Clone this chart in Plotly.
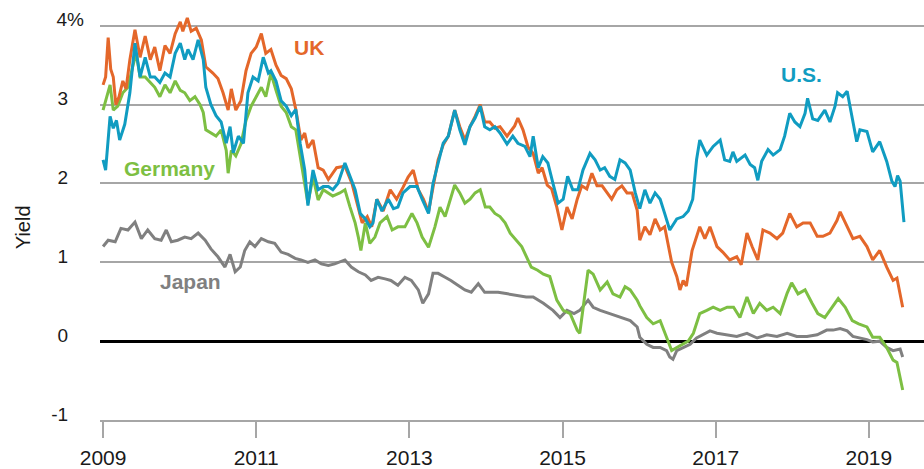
import plotly.graph_objects as go

# months since Jan 2009 and 10-year yields (%)
uk_m = [0.0, 0.4, 0.8, 1.2, 1.6, 2.0, 2.5, 3.1, 3.6, 4.2, 5.0, 5.8, 6.6, 7.4, 8.1, 8.9, 9.7, 10.5, 11.3,
        12.1, 12.5, 13.2, 13.8, 14.6, 15.4, 16.1, 17.2, 18.0, 18.8, 19.6, 20.1, 20.8, 21.6, 22.4, 23.2,
        24.0, 24.8, 25.5, 26.3, 27.1, 27.9, 28.7, 29.5, 30.2, 31.0, 31.6, 32.1, 32.9, 33.7, 34.5, 35.3,
        36.6, 37.9, 39.0, 39.8, 40.6, 41.4, 42.1, 42.9, 43.9, 45.0, 46.0, 47.0, 47.8, 48.6, 49.4, 50.2,
        51.0, 51.7, 52.5, 53.3, 54.1, 55.1, 55.9, 56.7, 57.5, 58.3, 59.1, 59.8, 60.6, 61.4, 62.2, 63.3,
        63.8, 64.5, 65.0, 65.8, 66.6, 67.4, 68.2, 68.8, 69.6, 70.3, 71.1, 71.9, 72.7, 73.5, 74.3, 75.0,
        75.8, 76.6, 77.4, 78.2, 79.0, 79.7, 80.5, 81.3, 82.1, 82.9, 83.7, 84.1, 84.9, 85.7, 86.5, 87.3,
        88.0, 88.5, 89.1, 89.9, 90.4, 90.9, 91.4, 92.3, 93.5, 94.3, 95.1, 96.2, 97.1, 98.2, 99.3, 100.0,
        100.9, 101.7, 102.6, 103.4, 104.5, 105.6, 106.5, 107.6, 108.7, 109.7, 110.8, 111.9, 112.8, 113.9,
        115.0, 115.5, 116.6, 117.5, 118.6, 119.7, 120.6, 121.7, 122.8, 123.8, 124.4, 125.3]
uk_y = [3.25, 3.35, 3.85, 3.45, 3.35, 3.0, 3.1, 3.3, 3.2, 3.57, 3.95, 3.6, 3.87, 3.57, 3.73, 3.43, 3.75, 3.65, 3.9,
        4.05, 3.93, 4.1, 3.93, 3.97, 3.82, 3.48, 3.4, 3.33, 3.15, 2.93, 3.2, 2.93, 3.05, 3.43, 3.65,
        3.73, 3.9, 3.65, 3.7, 3.5, 3.37, 3.33, 3.2, 2.94, 2.55, 2.64, 2.45, 2.55, 2.2, 2.17, 2.05,
        2.2, 2.22, 2.0, 1.75, 1.5, 1.58, 1.45, 1.8, 1.65, 1.92, 1.8, 1.95, 2.08, 2.17, 1.92, 1.8,
        1.64, 1.95, 2.3, 2.49, 2.6, 2.93, 2.72, 2.55, 2.72, 2.85, 3.0, 2.78, 2.78, 2.7, 2.72, 2.6,
        2.66, 2.73, 2.83, 2.68, 2.46, 2.38, 2.13, 2.2, 1.98, 1.93, 1.7, 1.41, 1.7, 1.55, 1.8, 1.97,
        1.93, 2.13, 1.97, 1.97, 1.88, 1.8, 1.92, 1.97, 1.88, 1.88, 1.66, 1.28, 1.45, 1.35, 1.55, 1.41,
        1.45, 1.24, 1.0, 0.82, 0.65, 0.77, 0.7, 1.15, 1.45, 1.3, 1.45, 1.2, 1.13, 1.03, 1.07, 0.97,
        1.37, 1.2, 1.03, 1.41, 1.37, 1.3, 1.37, 1.62, 1.45, 1.5, 1.5, 1.33, 1.33, 1.37,
        1.53, 1.64, 1.45, 1.3, 1.33, 1.2, 1.03, 1.15, 0.94, 0.77, 0.8, 0.43]

us_m = [0.0, 0.4, 1.1, 1.6, 2.1, 2.6, 3.4, 4.2, 5.0, 5.8, 6.6, 7.4, 8.1, 8.9, 9.7, 10.5, 11.3, 12.1, 12.8,
        13.3, 14.1, 14.9, 15.7, 16.1, 16.9, 17.7, 18.5, 19.3, 19.9, 20.4, 21.2, 22.0, 22.7, 23.5, 24.3,
        25.1, 25.9, 26.3, 27.1, 27.9, 28.7, 29.5, 30.2, 30.9, 31.6, 32.1, 32.9, 33.7, 34.5, 35.3, 36.0,
        36.8, 37.9, 38.7, 39.5, 40.3, 41.1, 41.8, 42.3, 42.9, 43.7, 44.7, 45.5, 46.2, 47.0, 48.1, 49.2,
        50.0, 51.0, 51.7, 52.5, 53.3, 54.1, 55.1, 55.9, 56.7, 57.5, 58.3, 59.1, 59.8, 60.6, 61.4, 62.2,
        63.3, 64.2, 65.0, 66.1, 66.9, 67.4, 68.2, 68.9, 69.7, 70.5, 71.3, 72.1, 72.8, 73.6, 74.4, 75.2,
        76.3, 77.1, 77.9, 78.6, 79.4, 80.2, 81.0, 81.8, 82.6, 83.4, 84.1, 84.9, 85.7, 86.5, 87.3, 88.0,
        88.8, 89.9, 90.9, 91.7, 92.4, 93.0, 93.5, 94.6, 95.6, 96.7, 97.4, 98.2, 98.7, 99.3, 100.6, 101.4,
        102.1, 102.6, 103.2, 104.2, 105.0, 106.1, 106.8, 107.6, 108.4, 109.2, 110.0, 110.4, 111.2, 112.0,
        113.1, 113.9, 114.7, 115.1, 115.9, 116.6, 117.3, 118.1, 118.6, 119.7, 120.6, 121.7, 122.8, 123.6,
        124.1, 124.5, 124.9, 125.5]
us_y = [2.3, 2.17, 2.85, 2.7, 2.8, 2.55, 2.75, 3.15, 3.78, 3.35, 3.6, 3.35, 3.35, 3.28, 3.4, 3.35, 3.65, 3.78, 3.57,
        3.7, 3.57, 3.82, 3.57, 3.22, 3.0, 2.86, 2.78, 2.51, 2.72, 2.39, 2.6, 2.51, 3.15, 3.35, 3.3,
        3.6, 3.4, 3.43, 3.3, 3.05, 2.98, 2.86, 2.94, 2.5, 2.17, 1.72, 2.17, 1.92, 1.96, 1.96, 1.92,
        2.0, 2.26, 2.09, 1.92, 1.62, 1.55, 1.45, 1.5, 1.8, 1.65, 1.8, 1.68, 1.7, 1.88, 1.96, 1.96,
        1.8, 1.62, 2.0, 2.26, 2.51, 2.6, 2.93, 2.68, 2.49, 2.72, 2.83, 2.98, 2.72, 2.68, 2.72, 2.64,
        2.5, 2.6, 2.51, 2.47, 2.34, 2.6, 2.2, 2.34, 2.26, 2.0, 1.75, 1.8, 2.09, 1.92, 1.92, 2.17,
        2.38, 2.3, 2.17, 2.2, 2.09, 2.05, 2.3, 2.26, 2.17, 1.88, 1.68, 1.92, 1.75, 1.88, 1.8, 1.62,
        1.41, 1.55, 1.58, 1.65, 1.8, 2.3, 2.55, 2.36, 2.47, 2.55, 2.3, 2.28, 2.4, 2.28, 2.36, 2.24,
        2.2, 2.04, 2.28, 2.43, 2.36, 2.43, 2.6, 2.89, 2.78, 2.72, 2.89, 3.08, 2.82, 2.8,
        2.93, 2.78, 2.98, 3.15, 3.1, 3.17, 2.85, 2.53, 2.68, 2.66, 2.4, 2.53, 2.28, 2.03,
        1.96, 2.1, 2.03, 1.51]

de_m = [0.0, 0.5, 1.1, 1.6, 2.3, 3.1, 3.9, 4.7, 5.2, 5.8, 6.6, 7.4, 8.1, 8.9, 9.7, 10.5, 11.3, 12.1, 12.8,
        13.6, 14.4, 15.2, 15.7, 16.1, 16.9, 17.7, 18.5, 19.3, 19.6, 20.1, 20.8, 21.6, 22.4, 23.2, 24.0,
        24.8, 25.5, 26.3, 27.1, 27.9, 28.7, 29.5, 30.2, 31.0, 31.8, 32.1, 32.9, 33.7, 34.5, 35.3, 36.0,
        37.1, 37.9, 38.7, 39.5, 40.0, 40.4, 41.1, 41.8, 42.6, 43.4, 44.5, 45.3, 46.2, 47.3, 48.4, 49.2,
        50.0, 51.0, 52.0, 52.8, 53.6, 54.4, 55.1, 55.9, 56.7, 57.5, 58.3, 59.1, 59.9, 60.6, 61.4, 62.2,
        63.0, 63.8, 65.6, 67.1, 68.1, 69.0, 70.0, 71.1, 72.1, 73.2, 74.3, 74.7, 75.5, 76.0, 76.8, 77.9,
        79.0, 79.9, 81.0, 81.8, 82.6, 83.7, 84.1, 85.2, 86.2, 87.3, 88.3, 89.1, 89.9, 90.9, 91.7, 92.5,
        93.5, 94.6, 95.6, 96.7, 97.8, 98.8, 99.8, 100.9, 101.9, 102.9, 104.0, 105.0, 106.1, 107.2, 107.9,
        108.9, 110.0, 111.1, 112.0, 113.1, 114.2, 115.2, 116.3, 117.4, 118.4, 119.7, 120.6, 121.7, 122.8,
        123.8, 124.4, 125.3]
de_y = [2.93, 3.07, 3.25, 2.93, 2.98, 3.15, 3.22, 3.5, 3.65, 3.35, 3.35, 3.28, 3.22, 3.1, 3.25, 3.15, 3.3, 3.18, 3.15,
        3.05, 3.1, 3.0, 2.9, 2.68, 2.64, 2.6, 2.68, 2.42, 2.13, 2.42, 2.35, 2.5, 2.8, 2.98, 3.1,
        3.22, 3.1, 3.4, 3.18, 2.98, 2.9, 2.72, 2.68, 2.3, 1.92, 1.75, 2.08, 1.79, 1.92, 1.88, 1.84,
        1.88, 1.92, 1.7, 1.5, 1.32, 1.15, 1.5, 1.24, 1.32, 1.5, 1.58, 1.41, 1.45, 1.45, 1.62, 1.5,
        1.32, 1.19, 1.45, 1.7, 1.58, 1.8, 1.98, 1.88, 1.75, 1.8, 1.88, 1.92, 1.7, 1.7, 1.62, 1.58,
        1.5, 1.37, 1.2, 0.94, 0.9, 0.85, 0.82, 0.52, 0.39, 0.35, 0.14, 0.1, 0.6, 0.9, 0.85, 0.65,
        0.75, 0.6, 0.56, 0.69, 0.65, 0.52, 0.45, 0.3, 0.22, 0.26, 0.05, -0.12, -0.08, -0.04, 0.0, 0.1,
        0.35, 0.39, 0.43, 0.39, 0.43, 0.43, 0.3, 0.56, 0.35, 0.48, 0.39, 0.43, 0.35, 0.61, 0.74,
        0.6, 0.65, 0.48, 0.35, 0.3, 0.43, 0.54, 0.43, 0.26, 0.22, 0.18, 0.05, 0.05, -0.08,
        -0.24, -0.27, -0.62]

jp_m = [0.0, 0.8, 1.9, 2.8, 3.9, 5.0, 6.0, 7.0, 8.1, 9.1, 9.9, 10.7, 11.7, 12.8, 13.8, 14.9, 16.0, 16.9, 18.0,
        19.1, 19.9, 20.7, 21.5, 22.2, 23.0, 23.8, 24.8, 25.9, 26.9, 27.9, 29.0, 30.1, 31.0, 32.1, 33.2,
        34.2, 35.3, 36.3, 37.9, 38.9, 40.0, 41.1, 42.0, 43.1, 44.2, 45.1, 46.2, 47.3, 48.3, 49.4, 50.1,
        51.0, 51.7, 52.5, 53.6, 54.5, 55.6, 56.7, 57.7, 58.8, 59.8, 60.8, 61.9, 63.4, 64.7, 66.3, 67.4,
        69.0, 70.5, 71.6, 72.7, 73.8, 74.7, 76.0, 76.8, 77.9, 79.4, 81.0, 82.6, 83.7, 84.1, 85.2, 86.2,
        87.3, 88.3, 88.8, 89.3, 89.9, 90.9, 92.0, 93.0, 94.0, 95.1, 96.2, 97.7, 99.3, 100.9, 102.5, 104.0,
        105.6, 107.2, 108.7, 110.3, 111.9, 113.4, 114.4, 115.5, 116.6, 117.5, 118.6, 119.7, 120.6, 121.7,
        122.8, 123.8, 124.9, 125.3]
jp_y = [1.2, 1.28, 1.26, 1.43, 1.41, 1.51, 1.3, 1.41, 1.3, 1.28, 1.41, 1.26, 1.28, 1.32, 1.3, 1.37, 1.28, 1.17, 1.07,
        0.94, 1.1, 0.88, 0.94, 1.15, 1.26, 1.2, 1.3, 1.26, 1.24, 1.13, 1.1, 1.05, 1.03, 1.0, 1.03,
        0.98, 0.96, 0.98, 1.03, 0.94, 0.88, 0.84, 0.77, 0.81, 0.79, 0.77, 0.71, 0.81, 0.77, 0.65, 0.48,
        0.6, 0.86, 0.86, 0.81, 0.77, 0.71, 0.65, 0.62, 0.73, 0.62, 0.62, 0.62, 0.6, 0.58, 0.56, 0.56,
        0.48, 0.39, 0.3, 0.39, 0.35, 0.39, 0.52, 0.43, 0.39, 0.35, 0.3, 0.26, 0.18, 0.05, -0.04, -0.08,
        -0.08, -0.12, -0.2, -0.23, -0.12, -0.08, -0.04, 0.04, 0.08, 0.13, 0.1, 0.08, 0.06, 0.1, 0.04, 0.08,
        0.06, 0.1, 0.06, 0.06, 0.08, 0.14, 0.14, 0.16, 0.13, 0.06, 0.04, 0.02, -0.01, 0.0,
        -0.08, -0.12, -0.1, -0.2]

year_ticks = [2009, 2011, 2013, 2015, 2017, 2019]
yield_ticks = [-1, 0, 1, 2, 3, 4]
yield_labels = ["-1", "0", "1", "2", "3", "4%"]

C_UK, C_US, C_DE, C_JP = "#E4672A", "#109CC1", "#7DBF43", "#808080"
FONT = "Liberation Sans, Arial, sans-serif"


def yrs(months):
    return [2009 + m / 12 for m in months]


fig = go.Figure()
for m, y, c, name in [(jp_m, jp_y, C_JP, "Japan"), (de_m, de_y, C_DE, "Germany"),
                      (uk_m, uk_y, C_UK, "UK"), (us_m, us_y, C_US, "U.S.")]:
    fig.add_trace(go.Scatter(x=yrs(m), y=y, mode="lines", name=name,
                             line=dict(color=c, width=3), showlegend=False))

labels = [("UK", 2011.69, 3.73, C_UK), ("U.S.", 2018.125, 3.38, C_US),
          ("Germany", 2009.868, 2.19, C_DE), ("Japan", 2010.136, 0.76, C_JP)]
for txt, x, y, c in labels:
    fig.add_annotation(x=x, y=y, text=f"<b>{txt}</b>", showarrow=False,
                       font=dict(family=FONT, size=21, color=c), xanchor="center", yanchor="middle")

nb = "\u00a0\u00a0\u00a0"
fig.add_annotation(x=-0.11, xref="paper", y=1.45, yref="y", text="Yield", textangle=-90,
                   showarrow=False, font=dict(family=FONT, size=20, color="#1a1a1a"))

fig.update_layout(
    width=924, height=469, margin=dict(l=100, r=0, t=10, b=49, autoexpand=False),
    plot_bgcolor="white", paper_bgcolor="white",
    font=dict(family=FONT, size=20, color="#1a1a1a"),
    xaxis=dict(range=[2008.96, 2019.72], tickmode="array", tickvals=year_ticks,
               ticktext=[str(t) for t in year_ticks], showgrid=False, zeroline=False,
               showline=True, linecolor="#A6A6A6", linewidth=1.5,
               ticks="outside", ticklen=16, tickwidth=1.5, tickcolor="#A6A6A6",
               ticklabelstandoff=2, tickfont=dict(size=21), automargin=False),
    yaxis=dict(range=[-1, 4.2], tickmode="array", tickvals=yield_ticks,
               ticktext=[l if l.endswith("%") else l + nb for l in yield_labels],
               showgrid=True, gridcolor="#A6A6A6", gridwidth=1.5,
               zeroline=True, zerolinecolor="#000000", zerolinewidth=2.5,
               showline=False, ticks="", ticklabelstandoff=15, ticklabelshift=-6,
               tickfont=dict(size=19), automargin=False),
)

fig.write_html("out.html", config={"displayModeBar": False},
               post_script="document.body.style.margin='0';document.body.style.overflow='hidden';")
